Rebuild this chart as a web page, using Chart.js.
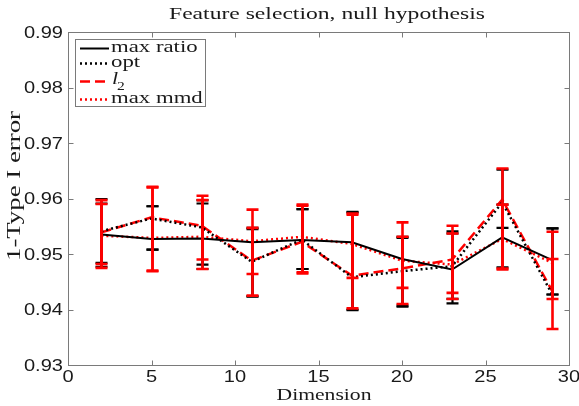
<!DOCTYPE html>
<html><head><meta charset="utf-8">
<script src="https://cdn.jsdelivr.net/npm/chart.js@4"></script>
<style>html,body{margin:0;padding:0;background:#fff}#wrap{width:579px;height:406px}</style>
</head><body><div id="wrap"><canvas id="c" width="579" height="406"></canvas></div>
<script>
// ---- data ----
const dimensions = [2, 5, 8, 11, 14, 17, 20, 23, 26, 29];
const maxRatio = [0.9535, 0.9527, 0.9528, 0.9521, 0.9525, 0.9521, 0.9491, 0.9472, 0.9530, 0.9489];
const opt      = [0.9541, 0.9564, 0.9548, 0.9486, 0.9526, 0.9458, 0.9469, 0.9478, 0.9593, 0.9427];
const l2       = [0.9539, 0.9566, 0.9551, 0.9488, 0.9522, 0.9461, 0.9474, 0.9490, 0.9598, 0.9433];
const maxMmd   = [0.9533, 0.9529, 0.9531, 0.9523, 0.9531, 0.9518, 0.9488, 0.9481, 0.9527, 0.9484];

const maxRatioLow  = [0.9477, 0.9508, 0.9473, 0.9424, 0.9473, 0.9400, 0.9407, 0.9411, 0.9476, 0.9427];
const maxRatioHigh = [0.9599, 0.9586, 0.9591, 0.9547, 0.9581, 0.9576, 0.9531, 0.9541, 0.9589, 0.9546];
const optLow       = [0.9484, 0.9508, 0.9481, 0.9423, 0.9473, 0.9399, 0.9405, 0.9419, 0.9547, 0.9427];
const optHigh      = [0.9591, 0.9586, 0.9597, 0.9545, 0.9581, 0.9575, 0.9529, 0.9537, 0.9652, 0.9546];
const l2Low        = [0.9475, 0.9469, 0.9473, 0.9425, 0.9465, 0.9402, 0.9410, 0.9430, 0.9472, 0.9365];
const l2High       = [0.9597, 0.9621, 0.9605, 0.9580, 0.9589, 0.9571, 0.9557, 0.9551, 0.9654, 0.9540];
const maxMmdLow    = [0.9482, 0.9470, 0.9490, 0.9464, 0.9467, 0.9457, 0.9439, 0.9419, 0.9474, 0.9419];
const maxMmdHigh   = [0.9590, 0.9620, 0.9597, 0.9547, 0.9587, 0.9573, 0.9531, 0.9537, 0.9589, 0.9491];

const xTickValues = [0, 5, 10, 15, 20, 25, 30];
const yTickValues = [0.93, 0.94, 0.95, 0.96, 0.97, 0.98, 0.99];
const seriesNames = ['max ratio', 'opt', 'l2', 'max mmd'];
const titleText = 'Feature selection, null hypothesis';
const xTitle = 'Dimension';
const yTitle = '1-Type I error';

// ---- styles ----
const RED = '#ff0000', BLACK = '#000000', FRAME = '#7a7a7a', TEXT = '#1a1a1a';
const styles = [
  {color: BLACK, width: 2,   dash: []},
  {color: BLACK, width: 2.5, dash: [2, 3]},
  {color: RED,   width: 2.5, dash: [10, 5]},
  {color: RED,   width: 2.5, dash: [2, 3]}
];
const seriesVals = [maxRatio, opt, l2, maxMmd];
const seriesLow  = [maxRatioLow, optLow, l2Low, maxMmdLow];
const seriesHigh = [maxRatioHigh, optHigh, l2High, maxMmdHigh];

const datasets = seriesVals.map((arr, k) => ({
  label: seriesNames[k],
  data: dimensions.map((x, i) => ({x: x, y: arr[i]})),
  borderColor: styles[k].color,
  borderWidth: styles[k].width,
  borderDash: styles[k].dash,
  pointRadius: 0,
  fill: false,
  tension: 0
}));

const serif = '"Liberation Serif", "DejaVu Serif", serif';
const sans = '"Liberation Sans", Arial, sans-serif';

// draw text stretched horizontally so that it reaches a target width
function stretchText(ctx, text, x, y, font, align, targetW, fixedSx) {
  ctx.save();
  ctx.font = font;
  ctx.textAlign = align;
  ctx.textBaseline = 'middle';
  const w = ctx.measureText(text).width;
  const sx = fixedSx || (targetW / w);
  ctx.translate(x, y);
  ctx.scale(sx, 1);
  ctx.fillText(text, 0, 0);
  ctx.restore();
  return w * sx;
}

const decor = {
  id: 'decor',
  afterDatasetsDraw(chart) {
    const ctx = chart.ctx, xs = chart.scales.x, ys = chart.scales.y;
    ctx.save();
    ctx.setLineDash([]);
    seriesVals.forEach((arr, k) => {
      ctx.strokeStyle = styles[k].color;
      ctx.lineWidth = k >= 2 ? 2.6 : 2.2;
      dimensions.forEach((x, i) => {
        const px = Math.round(xs.getPixelForValue(x)) + 0.5;
        const lo = ys.getPixelForValue(seriesLow[k][i]);
        const hi = ys.getPixelForValue(seriesHigh[k][i]);
        ctx.beginPath();
        ctx.moveTo(px, lo); ctx.lineTo(px, hi);
        ctx.moveTo(px - 6, lo); ctx.lineTo(px + 6, lo);
        ctx.moveTo(px - 6, hi); ctx.lineTo(px + 6, hi);
        ctx.stroke();
      });
    });
    ctx.restore();
  },
  afterDraw(chart) {
    const ctx = chart.ctx, a = chart.chartArea, xs = chart.scales.x, ys = chart.scales.y;
    ctx.save();
    // frame with inward ticks
    ctx.strokeStyle = FRAME; ctx.lineWidth = 1; ctx.setLineDash([]);
    const L = Math.round(a.left) + 0.5, R = Math.round(a.right) + 0.5;
    const T = Math.round(a.top) + 0.5, B = Math.round(a.bottom) + 0.5;
    ctx.strokeRect(L, T, R - L, B - T);
    ctx.beginPath();
    xTickValues.forEach(v => {
      const p = Math.round(xs.getPixelForValue(v)) + 0.5;
      ctx.moveTo(p, B); ctx.lineTo(p, B - 5);
      ctx.moveTo(p, T); ctx.lineTo(p, T + 5);
    });
    yTickValues.forEach(v => {
      const p = Math.round(ys.getPixelForValue(v)) + 0.5;
      ctx.moveTo(L, p); ctx.lineTo(L + 5, p);
      ctx.moveTo(R, p); ctx.lineTo(R - 5, p);
    });
    ctx.stroke();

    // tick labels
    ctx.fillStyle = TEXT;
    xTickValues.forEach(v => {
      stretchText(ctx, String(v), xs.getPixelForValue(v), a.bottom + 12, '17px ' + sans, 'center', 0, 1.18);
    });
    yTickValues.forEach(v => {
      stretchText(ctx, v.toFixed(2), a.left - 5, ys.getPixelForValue(v) + 1, '17px ' + sans, 'right', 0, 1.18);
    });

    // titles
    stretchText(ctx, titleText, 327, 15, '17px ' + serif, 'center', 316);
    stretchText(ctx, xTitle, 324, 396, '17px ' + serif, 'center', 95);
    ctx.save();
    ctx.translate(15, 186);
    ctx.rotate(-Math.PI / 2);
    stretchText(ctx, yTitle, 0, 0, '18px ' + serif, 'center', 150);
    ctx.restore();

    // legend
    const lx = 75.5, ly = 39.5, lw = 130, lh = 67;
    ctx.fillStyle = '#fff';
    ctx.fillRect(lx, ly, lw, lh);
    ctx.strokeStyle = FRAME; ctx.lineWidth = 1;
    ctx.strokeRect(lx, ly, lw, lh);
    const rows = [48.5, 63.5, 81.5, 99.5];
    rows.forEach((ry, k) => {
      ctx.strokeStyle = styles[k].color;
      ctx.lineWidth = styles[k].width;
      ctx.setLineDash(styles[k].dash);
      ctx.beginPath(); ctx.moveTo(80, ry); ctx.lineTo(109, ry); ctx.stroke();
      ctx.setLineDash([]);
      ctx.fillStyle = TEXT;
      if (k === 2) {
        stretchText(ctx, 'l', 112, ry - 2, 'italic 17px ' + serif, 'left', 0, 1.3);
        stretchText(ctx, '2', 117, ry + 5, '12px ' + serif, 'left', 0, 1.3);
      } else {
        stretchText(ctx, seriesNames[k], 111, ry - 1, '17px ' + serif, 'left', 0, 1.34);
      }
    });
    ctx.restore();
  }
};

new Chart(document.getElementById('c'), {
  type: 'line',
  data: {datasets: datasets},
  options: {
    responsive: false,
    animation: false,
    layout: {padding: {top: 32, right: 10, left: 0, bottom: 0}},
    plugins: {legend: {display: false}, title: {display: false}, tooltip: {enabled: false}},
    scales: {
      x: {
        type: 'linear', min: 0, max: 30,
        afterBuildTicks: s => { s.ticks = xTickValues.map(v => ({value: v})); },
        afterFit: s => { s.height = 41; },
        ticks: {display: false},
        grid: {display: false}, border: {display: false}
      },
      y: {
        type: 'linear', min: 0.93, max: 0.99,
        afterBuildTicks: s => { s.ticks = yTickValues.map(v => ({value: v})); },
        afterFit: s => { s.width = 68; },
        ticks: {display: false},
        grid: {display: false}, border: {display: false}
      }
    }
  },
  plugins: [decor]
});
</script>
</body></html>
